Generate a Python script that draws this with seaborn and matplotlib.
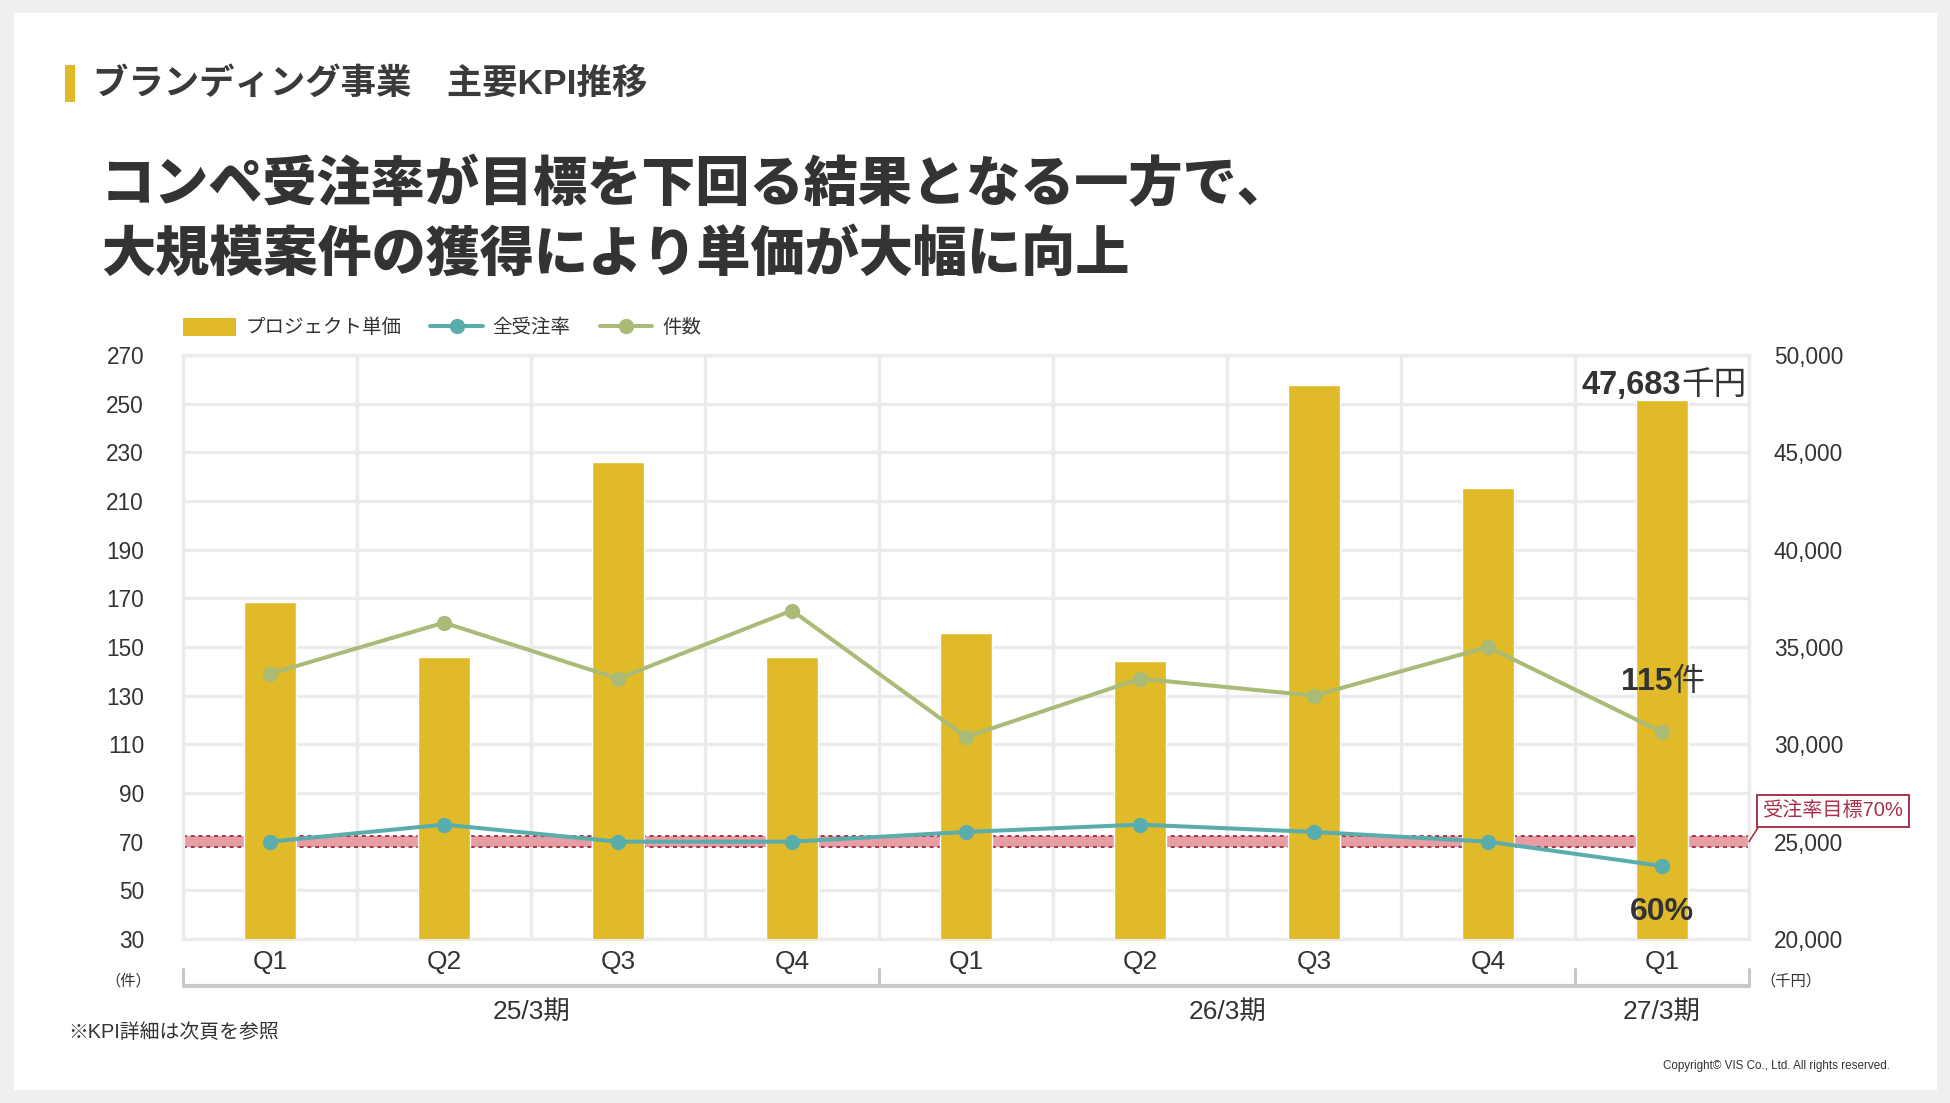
import numpy as np
import pandas as pd
import matplotlib
matplotlib.use("Agg")
import matplotlib.pyplot as plt
import matplotlib.transforms as mtransforms
from matplotlib.patches import Patch, Rectangle
from matplotlib.lines import Line2D
from matplotlib.ticker import MultipleLocator, FuncFormatter
import seaborn as sns

# data
fiscal_years = ["25/3期", "26/3期", "27/3期"]
quarters_per_year = [4, 4, 1]
quarters = ["Q1", "Q2", "Q3", "Q4", "Q1", "Q2", "Q3", "Q4", "Q1"]
unit_price = [37300, 34500, 44500, 34500, 35700, 34300, 48450, 43150, 47683]   # 千円
order_rate = [70, 77, 70, 70, 74, 77, 74, 70, 60]                            # %
case_count = [139, 160, 137, 165, 113, 137, 130, 150, 115]                    # 件
left_ticks = list(range(30, 271, 20))
target_rate = 70

YELLOW = "#E0BA28"
TEAL = "#5AADAD"
GREEN = "#A9BB76"
PINK = "#E69DA4"
DARKRED = "#A8324A"
GRID = "#EBEBEB"
TEXT = "#333333"

sns.set_style("white")
plt.rcParams["font.family"] = ["Liberation Sans", "Noto Sans CJK JP"]
plt.rcParams["text.color"] = TEXT

W, H = 1950, 1103
fig = plt.figure(figsize=(W / 100, H / 100), dpi=100, facecolor="#EFEFEF")
fig.patches.append(Rectangle((14 / W, 1 - 1090 / H), 1923 / W, 1077 / H,
                             transform=fig.transFigure, facecolor="white",
                             edgecolor="none", zorder=-5))

# header
fig.patches.append(Rectangle((65 / W, 1 - 102 / H), 10 / W, 37 / H,
                             transform=fig.transFigure, facecolor=YELLOW,
                             edgecolor="none", zorder=1))
fig.text(93 / W, 1 - 84 / H, "ブランディング事業　主要KPI推移", fontsize=25.5,
         fontweight="bold", color="#3A3A3A", va="center", ha="left")
fig.text(101 / W, 1 - 186 / H, "コンペ受注率が目標を下回る結果となる一方で、",
         fontsize=39, fontweight="black", va="center", ha="left")
fig.text(101 / W, 1 - 255 / H, "大規模案件の獲得により単価が大幅に向上",
         fontsize=39, fontweight="black", va="center", ha="left")

# bars on main axes (right scale), lines on twin (left scale)
ax = fig.add_axes([183 / W, 1 - 939 / H, 1566 / W, 584 / H])
ax2 = ax.twinx()

periods = [f"{i}_{q}" for i, q in enumerate(quarters)]
df = pd.DataFrame({"period": periods, "price": unit_price,
                   "rate": order_rate, "count": case_count,
                   "pos": np.arange(len(periods))})

sns.barplot(data=df, x="period", y="price", ax=ax, color=YELLOW,
            saturation=1, width=0.3, zorder=3)
sns.lineplot(data=df, x="pos", y="count", ax=ax2, color=GREEN, lw=2.9,
             marker="o", markersize=11, markeredgewidth=0, legend=False)
sns.lineplot(data=df, x="pos", y="rate", ax=ax2, color=TEAL, lw=2.9,
             marker="o", markersize=11, markeredgewidth=0, legend=False)

n = len(periods)
ax.set_xlim(-0.5, n - 0.5)
ax2.set_xlim(-0.5, n - 0.5)
ax.set_ylim(20000, 50000)
ax2.set_ylim(left_ticks[0], left_ticks[-1])

ax.yaxis.tick_right()
ax2.yaxis.tick_left()
ax.set_xlabel("")
ax.set_ylabel("")
ax2.set_xlabel("")
ax2.set_ylabel("")

ax.yaxis.set_major_locator(MultipleLocator(5000))
ax.yaxis.set_minor_locator(MultipleLocator(2500))
ax.yaxis.set_major_formatter(FuncFormatter(lambda v, p: f"{int(v):,}"))
ax2.set_yticks(left_ticks)
ax.set_xticks(range(n))
ax.set_xticklabels(quarters)
ax.set_xticks(np.arange(-0.5, n, 1), minor=True)

ax.tick_params(axis="y", which="both", length=0, pad=18, labelsize=16.3,
               labelcolor=TEXT, right=True, left=False,
               labelright=True, labelleft=False)
ax.tick_params(axis="x", which="both", length=0, pad=8, labelsize=19,
               labelcolor=TEXT)
ax2.tick_params(axis="y", length=0, pad=28, labelsize=16.3, labelcolor=TEXT)

ax.set_axisbelow(True)
ax.grid(axis="y", which="both", color=GRID, lw=2.4)
ax.grid(axis="x", which="minor", color=GRID, lw=2.4)
ax.grid(axis="x", which="major", visible=False)
for sp in ax.spines.values():
    sp.set_color(GRID)
    sp.set_linewidth(2.4)
for sp in ax2.spines.values():
    sp.set_visible(False)

# target band: drawn under the bars, in percent units of the left scale
blend = mtransforms.blended_transform_factory(ax.transAxes, ax2.transData)
half = 2.3
ax.add_patch(Rectangle((0, target_rate - half), 1, 2 * half, transform=blend,
                       facecolor=PINK, edgecolor="none", zorder=1))
for yy in (target_rate - half, target_rate + half):
    ax.plot([0, 1], [yy, yy], transform=blend, color=DARKRED, lw=1.4,
            ls=(0, (2, 2)), zorder=1.5)

ax2.annotate(f"受注率目標{target_rate}%", xy=(1.0, target_rate),
             xycoords=blend, xytext=(1833, H - 811), textcoords="figure pixels",
             fontsize=14.5, color=DARKRED, ha="center", va="center",
             bbox=dict(boxstyle="square,pad=0.3", fc="white", ec=DARKRED, lw=1.4),
             arrowprops=dict(arrowstyle="-", color=DARKRED, lw=1.2,
                             shrinkA=0, shrinkB=0, relpos=(0, 0)),
             annotation_clip=False)

# value labels on the latest quarter
last = n - 1
ax.annotate(f"{unit_price[last]:,}", xy=(last, unit_price[last]),
            xytext=(19, 6), textcoords="offset pixels", ha="right",
            va="baseline", fontsize=23.5, fontweight="bold",
            annotation_clip=False)
ax.annotate("千円", xy=(last, unit_price[last]), xytext=(19, 6),
            textcoords="offset pixels", ha="left", va="baseline",
            fontsize=23.5, annotation_clip=False)
ax2.annotate(f"{case_count[last]}", xy=(last, case_count[last]),
             xytext=(11, 42), textcoords="offset pixels", ha="right",
             va="baseline", fontsize=23, fontweight="bold")
ax2.annotate("件", xy=(last, case_count[last]), xytext=(11, 42),
             textcoords="offset pixels", ha="left", va="baseline", fontsize=23)
ax2.annotate(f"{order_rate[last]}%", xy=(last, order_rate[last]),
             xytext=(0, -54), textcoords="offset pixels", ha="center",
             va="baseline", fontsize=23, fontweight="bold")

# fiscal year bracket under the quarters
xt = ax.get_xaxis_transform()
bounds = np.concatenate([[0], np.cumsum(quarters_per_year)]) - 0.5
ax.plot([bounds[0], bounds[-1]], [-0.0805, -0.0805], transform=xt,
        color="#C8C8C8", lw=3, clip_on=False, solid_capstyle="butt")
for b in bounds:
    ax.plot([b, b], [-0.0805, -0.051], transform=xt, color="#C8C8C8",
            lw=2.2, clip_on=False)
start = 0
for name, size in zip(fiscal_years, quarters_per_year):
    ax.text(start + (size - 1) / 2, -0.124, name, transform=xt, ha="center",
            va="center", fontsize=19, color=TEXT)
    start += size

fig.text(128 / W, 1 - 981 / H, "（件）", fontsize=11, ha="center", va="center")
fig.text(1791 / W, 1 - 981 / H, "（千円）", fontsize=11, ha="center", va="center")

# legend
handles = [Patch(facecolor=YELLOW, edgecolor="none"),
           Line2D([], [], color=TEAL, lw=2.9, marker="o", markersize=11,
                  markeredgewidth=0),
           Line2D([], [], color=GREEN, lw=2.9, marker="o", markersize=11,
                  markeredgewidth=0)]
labels = ["プロジェクト単価", "全受注率", "件数"]
ax2.legend(handles, labels, loc="lower left", bbox_to_anchor=(0, 1.03),
           ncol=3, frameon=False, fontsize=14, handlelength=2.7,
           handleheight=1.1, handletextpad=0.5, columnspacing=1.5,
           borderpad=0, borderaxespad=0)

fig.text(68 / W, 1 - 1032 / H, "※KPI詳細は次頁を参照", fontsize=14.3,
         ha="left", va="center")
fig.text(1890 / W, 1 - 1066 / H, "Copyright© VIS Co., Ltd. All rights reserved.",
         fontsize=8.4, ha="right", va="center")

fig.savefig("out.png", dpi=100, facecolor=fig.get_facecolor())
